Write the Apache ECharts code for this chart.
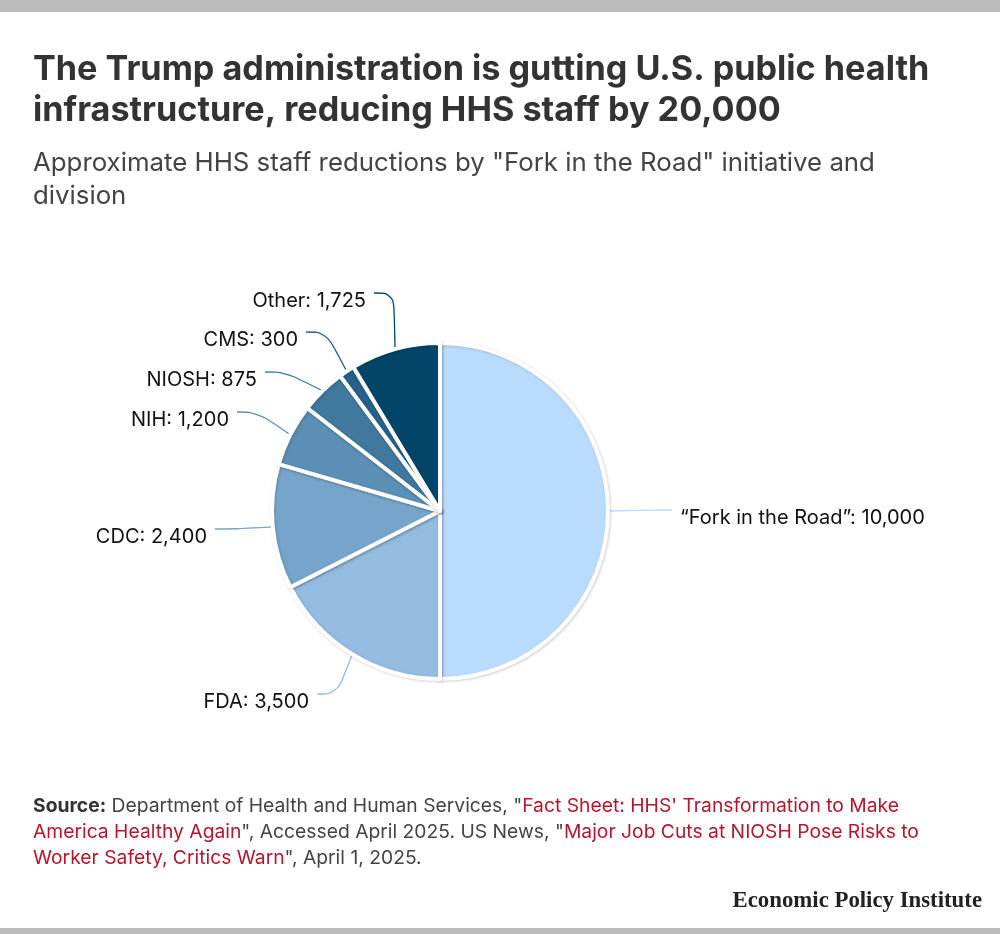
<!DOCTYPE html>
<html>
<head>
<meta charset="utf-8">
<title>HHS staff reductions</title>
<script src="https://cdn.jsdelivr.net/npm/echarts@6/dist/echarts.min.js"></script>
<style>
html,body{margin:0;padding:0;background:#fff;}
#chart{width:1000px;height:934px;}
</style>
</head>
<body>
<div id="chart"></div>
<script>
// 数据
var categories = ['“Fork in the Road”', 'FDA', 'CDC', 'NIH', 'NIOSH', 'CMS', 'Other'];
var staffCuts = [10000, 3500, 2400, 1200, 875, 300, 1725];
var sliceColors = ['#b9dcfe', '#94bbe0', '#76a4ca', '#5b8fb5', '#40789e', '#27618a', '#034569'];

var titleLines = ['The Trump administration is gutting U.S. public health', 'infrastructure, reducing HHS staff by 20,000'];
var subtitleLines = ['Approximate HHS staff reductions by "Fork in the Road" initiative and', 'division'];

var FONT = 'Inter, "Noto Sans", sans-serif';

// 标签位置 (x, y, align)
var labelSpots = [
	[680, 518, 'left'],
	[309, 702, 'right'],
	[207, 537, 'right'],
	[229, 420, 'right'],
	[257, 380, 'right'],
	[298, 340, 'right'],
	[366, 301, 'right']
];

var pieData = categories.map(function(name, i){
	return {name: name, value: staffCuts[i], itemStyle: {color: sliceColors[i]}};
});

var myChart = echarts.init(document.getElementById('chart'));

var option = {
	animation: false,
	backgroundColor: '#fff',
	graphic: [
		{type: 'rect', shape: {x: 0, y: 0, width: 1000, height: 12}, style: {fill: '#bbbbbb'}},
		{type: 'rect', shape: {x: 0, y: 928, width: 1000, height: 6}, style: {fill: '#bbbbbb'}},
		{type: 'text', x: 33, y: 70, style: {text: titleLines[0], fill: '#333333', font: '700 34.2px ' + FONT, textVerticalAlign: 'middle'}},
		{type: 'text', x: 33, y: 111, style: {text: titleLines[1], fill: '#333333', font: '700 34.2px ' + FONT, textVerticalAlign: 'middle'}},
		{type: 'text', x: 33, y: 163, style: {text: subtitleLines[0], fill: '#444444', font: '25.8px ' + FONT, textVerticalAlign: 'middle'}},
		{type: 'text', x: 33, y: 196, style: {text: subtitleLines[1], fill: '#444444', font: '25.8px ' + FONT, textVerticalAlign: 'middle'}},
		{type: 'text', x: 33, y: 806, style: {
			text: '{b|Source:} Department of Health and Human Services, "{r|Fact Sheet: HHS\' Transformation to Make}',
			textVerticalAlign: 'middle',
			font: '19.3px ' + FONT, fill: '#444444',
			rich: {b: {font: 'bold 19.3px ' + FONT, fill: '#333333'}, r: {font: '19.3px ' + FONT, fill: '#b5162e'}}
		}},
		{type: 'text', x: 33, y: 832, style: {
			text: '{r|America Healthy Again}", Accessed April 2025. US News, "{r|Major Job Cuts at NIOSH Pose Risks to}',
			textVerticalAlign: 'middle',
			font: '19.3px ' + FONT, fill: '#444444',
			rich: {r: {font: '19.3px ' + FONT, fill: '#b5162e'}}
		}},
		{type: 'text', x: 33, y: 858, style: {
			text: '{r|Worker Safety, Critics Warn}", April 1, 2025.',
			textVerticalAlign: 'middle',
			font: '19.3px ' + FONT, fill: '#444444',
			rich: {r: {font: '19.3px ' + FONT, fill: '#b5162e'}}
		}},
		{type: 'text', x: 982, y: 901, style: {text: 'Economic Policy Institute', fill: '#222222', font: 'bold 22.8px "Liberation Serif", serif', textAlign: 'right', textVerticalAlign: 'middle'}}
	],
	series: [{
		type: 'pie',
		center: [440, 511],
		radius: [0, 168],
		startAngle: 90,
		clockwise: true,
		data: pieData,
		itemStyle: {
			borderColor: '#fff',
			borderWidth: 4,
			shadowColor: 'rgba(0,0,0,0.16)',
			shadowBlur: 3,
			shadowOffsetX: 1,
			shadowOffsetY: 1
		},
		label: {
			show: true,
			// 上面留一个空行，引导线接在文字上方
			formatter: function(p){
				return '\n' + p.name + ': ' + p.value.toLocaleString('en-US');
			},
			color: '#111111',
			fontFamily: FONT,
			fontSize: 20,
			lineHeight: 16,
			backgroundColor: 'rgba(255,255,255,0)',
			padding: [0, 8]
		},
		labelLine: {
			show: true,
			length: 20,
			length2: 20,
			smooth: 0.4,
			lineStyle: {width: 1.3}
		},
		labelLayout: function(params){
			var spot = labelSpots[params.dataIndex];
			return {
				x: spot[2] == 'left' ? spot[0] - 8 : spot[0] + 8,
				y: spot[1] - 8,
				align: spot[2],
				verticalAlign: 'middle'
			};
		}
	}]
};
myChart.setOption(option);
</script>
</body>
</html>
